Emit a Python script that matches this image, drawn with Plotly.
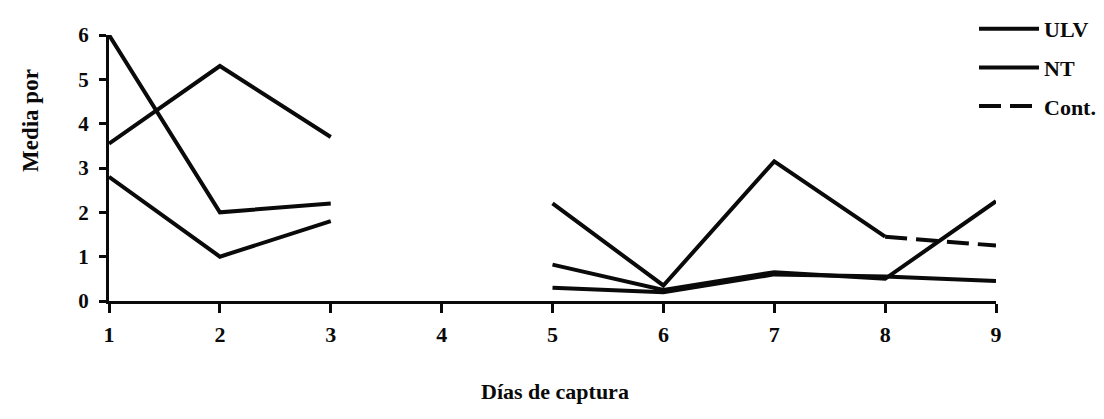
import plotly.graph_objects as go

dias = [1, 2, 3, 4, 5, 6, 7, 8, 9]
tick_labels = ["1", "2", "3", "4", "5", "6", "7", "8", "9"]

ulv = [6.0, 2.0, 2.2, None, 0.82, 0.25, 0.65, 0.5, 2.25]
nt = [2.8, 1.0, 1.8, None, 0.3, 0.2, 0.6, 0.55, 0.45]
cont_a = [3.55, 5.3, 3.7, None, 2.2, 0.35, 3.15, 1.45, None]
cont_b = [None, None, None, None, None, None, None, 1.45, 1.25]

FONT = "Liberation Serif"
BLACK = "#0a0a0a"

fig = go.Figure()
fig.add_trace(go.Scatter(x=dias, y=ulv, mode="lines", name="ULV",
                         line=dict(color=BLACK, width=4), cliponaxis=False,
                         legendgroup="a"))
fig.add_trace(go.Scatter(x=dias, y=nt, mode="lines", name="NT",
                         line=dict(color=BLACK, width=4), cliponaxis=False,
                         legendgroup="b"))
fig.add_trace(go.Scatter(x=dias, y=cont_a, mode="lines", name="Cont.",
                         line=dict(color=BLACK, width=4), cliponaxis=False,
                         legendgroup="c", showlegend=False))
fig.add_trace(go.Scatter(x=dias, y=cont_b, mode="lines", name="Cont.",
                         line=dict(color=BLACK, width=4, dash="22px,9px"),
                         cliponaxis=False, legendgroup="c"))

fig.update_layout(
    width=1104, height=419,
    margin=dict(l=101, r=116, t=27, b=126, autoexpand=False),
    paper_bgcolor="white", plot_bgcolor="white",
    font=dict(family=FONT, size=20, color=BLACK, weight="bold"),
    showlegend=True,
    legend=dict(xref="container", yref="container", x=966 / 1104, y=1.0,
                xanchor="left", yanchor="top",
                font=dict(family=FONT, size=22, color=BLACK, weight="bold"),
                tracegroupgap=7, itemwidth=60, bgcolor="rgba(0,0,0,0)"),
    xaxis=dict(range=[1, 9], tickmode="array", tickvals=dias, ticktext=tick_labels,
               showgrid=False, zeroline=False, showline=True, linecolor=BLACK,
               linewidth=3, ticks="outside", ticklen=9, tickwidth=3, tickcolor=BLACK,
               ticklabelstandoff=3, automargin=False,
               tickfont=dict(family=FONT, size=22, color=BLACK, weight="bold")),
    yaxis=dict(range=[0, 6], tickvals=[0, 1, 2, 3, 4, 5, 6],
               showgrid=False, zeroline=False, showline=True, linecolor=BLACK,
               linewidth=3, ticks="outside", ticklen=7, tickwidth=3, tickcolor=BLACK,
               ticklabelstandoff=6, automargin=False,
               tickfont=dict(family=FONT, size=21, color=BLACK, weight="bold")),
    annotations=[
        dict(text="Media por", xref="paper", yref="paper",
             x=(22 - 101) / 887, y=(293 - 113) / 266, textangle=-90,
             xanchor="center", yanchor="middle", showarrow=False,
             font=dict(family=FONT, size=23, color=BLACK, weight="bold")),
        dict(text="Días de captura", xref="paper", yref="paper",
             x=(547 - 101) / 887, y=(293 - 383) / 266,
             xanchor="center", yanchor="middle", showarrow=False,
             font=dict(family=FONT, size=22, color=BLACK, weight="bold")),
    ],
)

fig.write_html("out.html")
